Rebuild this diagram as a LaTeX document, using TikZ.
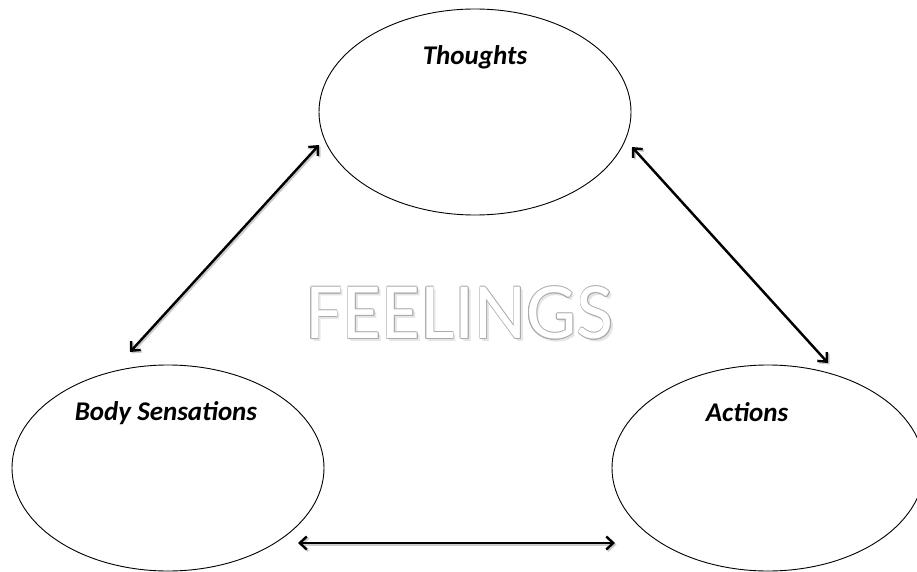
\documentclass[tikz,border=0pt]{standalone}
\usepackage{fontspec}
\setmainfont{Carlito}
\usetikzlibrary{arrows.meta,shapes.geometric}
\tikzset{
  bubble/.style={draw=black, line width=0.9pt, ellipse, minimum width=312pt, minimum height=206pt, inner sep=0pt},
  lbl/.style={font=\fontsize{27}{30}\selectfont\bfseries\itshape, inner sep=0pt},
  link/.style={line width=2.4pt, {Straight Barb[length=7pt,width=13pt,line width=2.4pt]}-{Straight Barb[length=7pt,width=13pt,line width=2.4pt]}},
  bigtxt/.style={font=\fontsize{80}{90}\selectfont, inner sep=0pt}
}
\begin{document}
\begin{tikzpicture}[x=1pt,y=-1pt]
\useasboundingbox (0,0) rectangle (917,572);
\fill[white] (0,0) rectangle (917,572);
% ellipses
\node[bubble] (th) at (475,112) {};
\node[bubble] (bs) at (168,468) {};
\node[bubble] (ac) at (768,468) {};
% labels
\node[lbl] (thl) at (475,57) {Thoughts};
\node[lbl] (bsl) at (166,413) {Body Sensations};
\node[lbl] (acl) at (747,412) {Actions};
% FEELINGS: white letters with soft grey shadow and outline
\foreach \dx/\dy in {1.5/2,2.5/3}{
  \node[bigtxt, text=black!10] at (460+\dx,313+\dy) {FEELINGS};
}
\foreach \dx/\dy in {-0.7/0,0.7/0,0/-0.7,0/0.7,-0.5/-0.5,0.5/0.5,-0.5/0.5,0.5/-0.5}{
  \node[bigtxt, text=black!33] at (460+\dx,313+\dy) {FEELINGS};
}
\node[bigtxt, text=white] (fe) at (460,313) {FEELINGS};
% arrow end points
\coordinate (l1) at (130,352);
\coordinate (l2) at (319,145);
\coordinate (r1) at (632,147);
\coordinate (r2) at (828,363);
\coordinate (b1) at (298,543);
\coordinate (b2) at (615,543);
% shadows
\draw[link, draw=black!20] ([shift={(1.5,1.5)}]l1) -- ([shift={(1.5,1.5)}]l2);
\draw[link, draw=black!20] ([shift={(1.5,1.5)}]r1) -- ([shift={(1.5,1.5)}]r2);
\draw[link, draw=black!20] ([shift={(1.5,1.5)}]b1) -- ([shift={(1.5,1.5)}]b2);
\draw[link] (l1) -- (l2);
\draw[link] (r1) -- (r2);
\draw[link] (b1) -- (b2);
\end{tikzpicture}
\end{document}
